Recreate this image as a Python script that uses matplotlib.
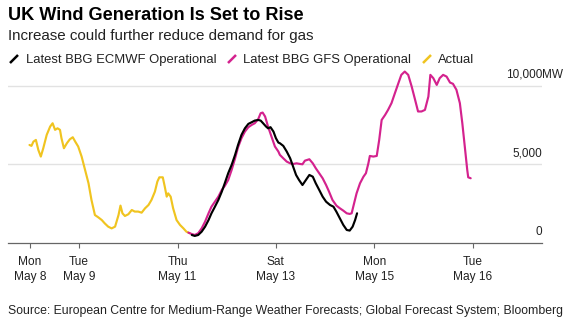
import matplotlib
matplotlib.use('Agg')
import matplotlib.pyplot as plt
from matplotlib.lines import Line2D
from matplotlib.transforms import offset_copy

plt.rcParams['font.family'] = ['Liberation Sans', 'DejaVu Sans']

# ---------------- data (x in days since Mon May 8, values in MW) ----------------
actual_days = [-0.01, 0.03, 0.07, 0.12, 0.17, 0.22, 0.27, 0.34, 0.41, 0.46,
               0.51, 0.56, 0.61, 0.64, 0.69, 0.75, 0.81, 0.87, 0.92, 0.98,
               1.05, 1.12, 1.19, 1.25, 1.32, 1.39, 1.46, 1.52, 1.59, 1.66,
               1.73, 1.80, 1.84, 1.88, 1.93, 2.00, 2.07, 2.13, 2.20, 2.27,
               2.34, 2.41, 2.47, 2.54, 2.59, 2.63, 2.70, 2.74, 2.78, 2.81,
               2.86, 2.91, 2.98, 3.05, 3.12, 3.18, 3.25]
actual_mw = [6240, 6180, 6450, 6560, 5920, 5500, 6030, 6880, 7410, 7620,
             7200, 7300, 7200, 6670, 6030, 6350, 6600, 6730, 6450, 6140,
             5500, 4650, 3800, 2740, 1780, 1630, 1460, 1250, 1040, 930,
             1040, 1780, 2380, 1890, 1720, 1830, 2100, 2000, 2000, 1930,
             2210, 2420, 2740, 3270, 3910, 4180, 4180, 3590, 2950, 3160,
             2950, 2210, 1460, 1150, 930, 720, 620]

ecmwf_days = [3.29, 3.35, 3.42, 3.49, 3.56, 3.63, 3.69, 3.76, 3.83, 3.90,
              3.96, 4.03, 4.10, 4.17, 4.23, 4.30, 4.37, 4.44, 4.51, 4.57,
              4.64, 4.69, 4.74, 4.80, 4.84, 4.89, 4.95, 5.00, 5.05, 5.08,
              5.15, 5.22, 5.29, 5.35, 5.41, 5.47, 5.54, 5.61, 5.68, 5.75,
              5.81, 5.88, 5.95, 6.02, 6.10, 6.17, 6.23, 6.30, 6.37, 6.44,
              6.50, 6.56, 6.61, 6.65]
ecmwf_mw = [510, 450, 510, 720, 1040, 1460, 1890, 2310, 2740, 3270,
            3800, 4440, 4970, 5610, 6240, 6880, 7300, 7580, 7690, 7790,
            7830, 7790, 7620, 7410, 7300, 7370, 7090, 6670, 6390, 6350,
            6180, 5820, 5390, 4860, 4330, 4010, 3690, 4010, 4330, 4220,
            3800, 3380, 2950, 2630, 2420, 2310, 1990, 1570, 1150, 830,
            790, 1040, 1460, 1890]

gfs_days = [3.22, 3.29, 3.35, 3.42, 3.49, 3.56, 3.63, 3.69, 3.76, 3.83,
            3.90, 3.96, 4.03, 4.10, 4.17, 4.23, 4.30, 4.37, 4.44, 4.51,
            4.57, 4.64, 4.69, 4.73, 4.78, 4.84, 4.91, 4.98, 5.05, 5.08,
            5.15, 5.22, 5.29, 5.35, 5.42, 5.49, 5.54, 5.59, 5.68, 5.75,
            5.81, 5.88, 5.95, 6.02, 6.08, 6.15, 6.23, 6.30, 6.37, 6.44,
            6.50, 6.54, 6.59, 6.64, 6.71, 6.78, 6.83, 6.88, 6.91, 6.98,
            7.05, 7.10, 7.15, 7.22, 7.28, 7.35, 7.42, 7.49, 7.55, 7.62,
            7.69, 7.76, 7.83, 7.89, 7.96, 8.03, 8.10, 8.14, 8.20, 8.27,
            8.33, 8.40, 8.47, 8.54, 8.60, 8.67, 8.74, 8.79, 8.84, 8.89,
            8.91, 8.96]
gfs_mw = [660, 570, 510, 620, 930, 1360, 1890, 2310, 2630, 2950,
          3380, 3630, 4010, 4650, 5390, 6090, 6670, 7090, 7370, 7520,
          7620, 7880, 8260, 8300, 8050, 7410, 6770, 6140, 5820, 5610,
          5390, 5180, 5070, 5030, 5070, 5030, 5010, 5240, 5330, 5070,
          4760, 4440, 4120, 3690, 3270, 2740, 2380, 2210, 2060, 1890,
          1850, 1890, 2530, 3160, 3800, 4220, 4440, 5070, 5540, 5500,
          5540, 6560, 7830, 8150, 8470, 8900, 9540, 10170, 10700, 10910,
          10700, 9960, 9110, 8370, 8370, 8470, 9320, 10700, 10490, 10060,
          10490, 10700, 10590, 10210, 10130, 9750, 8900, 7620, 6140, 4650,
          4180, 4120]

tick_days = [0, 1, 3, 5, 7, 9]
tick_labels = ["Mon\nMay 8", "Tue\nMay 9", "Thu\nMay 11", "Sat\nMay 13",
               "Mon\nMay 15", "Tue\nMay 16"]
ytick_vals = [0, 5000, 10000]
ytick_labels = ["0", "5,000", "10,000"]

series_names = ["Latest BBG ECMWF Operational", "Latest BBG GFS Operational", "Actual"]
c_ecmwf, c_gfs, c_actual = "#000000", "#d4228e", "#f0c420"

# ---------------- figure ----------------
W, H = 567, 325
fig = plt.figure(figsize=(W / 100, H / 100), dpi=100)
fig.patch.set_facecolor("white")

def fx(px):
    return px / W

def fy(py):
    return 1 - py / H

ax = fig.add_axes([fx(8), fy(243), fx(542) - fx(8), fy(67) - fy(243)])
ax.set_xlim(-0.447, 10.41)
ax.set_ylim(0, 11200)

for v in ytick_vals[1:]:
    ax.axhline(v, color="#e2e2e2", lw=1.0, zorder=0)

lw = 1.55
ax.plot(actual_days, actual_mw, color=c_actual, lw=lw, zorder=2,
        solid_joinstyle="round", solid_capstyle="round")
ax.plot(gfs_days, gfs_mw, color=c_gfs, lw=lw, zorder=3,
        solid_joinstyle="round", solid_capstyle="round")
ax.plot(ecmwf_days, ecmwf_mw, color=c_ecmwf, lw=lw, zorder=4,
        solid_joinstyle="round", solid_capstyle="round")

for s in ["top", "right", "left"]:
    ax.spines[s].set_visible(False)
ax.spines["bottom"].set_color("#666666")
ax.spines["bottom"].set_linewidth(0.9)
ax.set_yticks([])
ax.set_xticks(tick_days)
ax.set_xticklabels(tick_labels, fontsize=8.6, color="#222222", linespacing=1.35)
ax.tick_params(axis="x", length=3.6, width=0.8, color="#666666", pad=5.8)

# y labels above gridlines, right-aligned
tr = offset_copy(ax.get_yaxis_transform(), fig=fig, x=0, y=11, units="dots")
for v, lab in zip(ytick_vals, ytick_labels):
    ax.text(1.0, v, lab, transform=tr, ha="right", va="center",
            fontsize=8.5, color="#222222")
ax.text(1.0, ytick_vals[-1], "MW", transform=tr, ha="left", va="center",
        fontsize=8.5, color="#222222")

# ---------------- titles ----------------
fig.text(fx(8), fy(20), "UK Wind Generation Is Set to Rise", fontsize=13.1,
         fontweight="bold", color="#000000", va="baseline", ha="left")
fig.text(fx(8), fy(40), "Increase could further reduce demand for gas", fontsize=10.9,
         color="#222222", va="baseline", ha="left")

# legend
leg_items = [(10, 26, c_ecmwf, series_names[0]),
             (228, 243, c_gfs, series_names[1]),
             (423, 438, c_actual, series_names[2])]
for sx, tx, col, name in leg_items:
    fig.add_artist(Line2D([fx(sx), fx(sx + 8)], [fy(63), fy(55)],
                          transform=fig.transFigure, color=col, lw=1.8,
                          solid_capstyle="butt"))
    fig.text(fx(tx), fy(63), name, fontsize=9.4, color="#222222",
             va="baseline", ha="left")

fig.text(fx(8), fy(314), "Source: European Centre for Medium-Range Weather Forecasts; "
         "Global Forecast System; Bloomberg", fontsize=8.8, color="#222222",
         va="baseline", ha="left")

fig.savefig("out.png", dpi=100, facecolor="white")
